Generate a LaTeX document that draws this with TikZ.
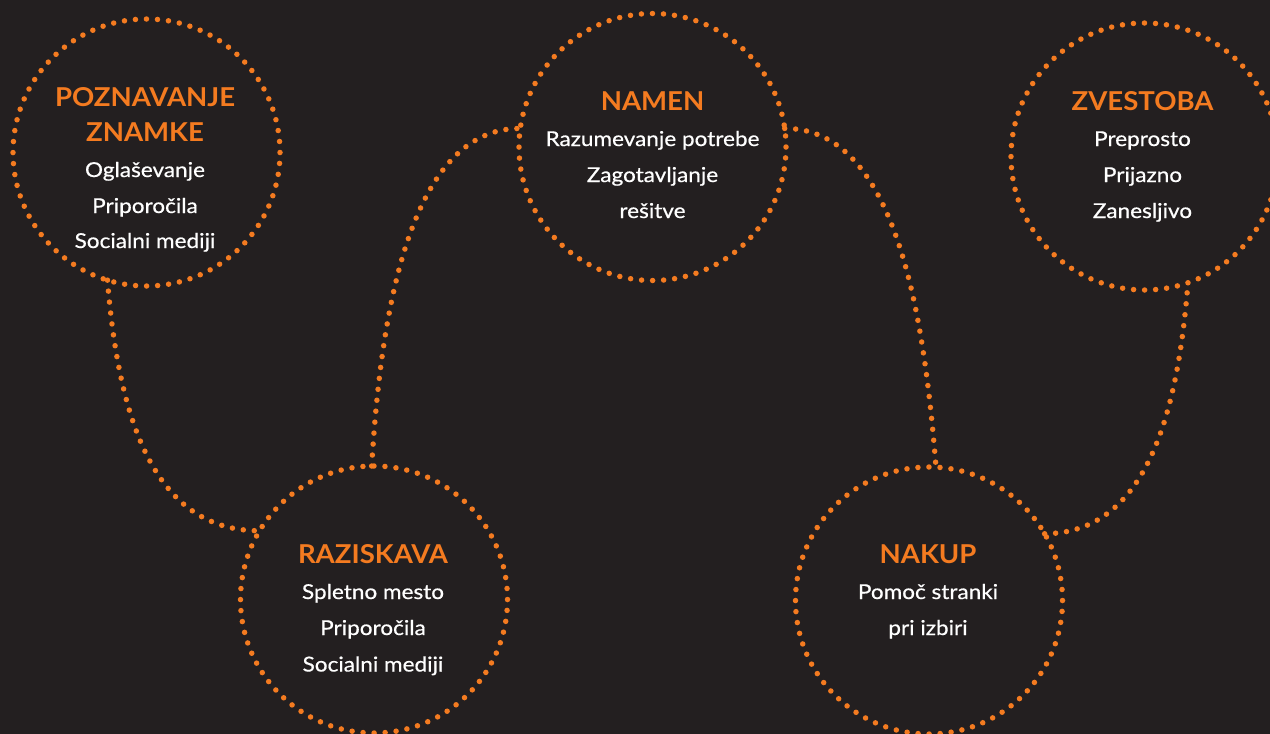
\documentclass[tikz,border=0pt]{standalone}
\usepackage{fontspec}
\setmainfont{Lato}
\newfontfamily\bodyfont{Lato}[FakeBold=0.6,FakeStretch=1.1]
\newfontfamily\titlefont{Lato}[FakeStretch=1.06]
\definecolor{bg}{HTML}{231F20}
\definecolor{org}{HTML}{F47B20}
\begin{document}
\begin{tikzpicture}[x=1pt,y=-1pt,
  ring/.style={circle, draw=org, line width=5.5pt, line cap=round, dash pattern=on 0pt off 11.04pt, minimum size=267pt, inner sep=0pt, outer sep=0pt},
  link/.style={draw=org, line width=5.5pt, line cap=round, dash pattern=on 0pt off 11pt},
  ttl/.style={text=org, font=\titlefont\fontsize{26}{30}\selectfont\bfseries, anchor=base, inner sep=0pt},
  txt/.style={text=white, font=\bodyfont\fontsize{20.5}{24}\selectfont, anchor=base, inner sep=0pt}]
\fill[bg] (0,0) rectangle (1270,734);
\useasboundingbox (0,0) rectangle (1270,734);

\node[ring] (pozn)  at (146.5,152.5) {};
\node[ring] (namen) at (652.5,147) {};
\node[ring] (zvest) at (1144.5,156.5) {};
\node[ring] (rask)  at (374,599.5) {};
\node[ring] (nakup) at (929,600.5) {};

\draw[link] (pozn.253) .. controls (118,410) and (150,531) .. (rask.149);
\draw[link] (rask.91) .. controls (380,330) and (405,128) .. (namen.172);
\draw[link] (namen.8) .. controls (900,128) and (925,330) .. (nakup.87);
\draw[link] (nakup.30) .. controls (1148,533) and (1178,410) .. (zvest.289);

\node[ttl] (pozn-a) at (145,106) {POZNAVANJE};
\node[ttl] (pozn-b) at (145,141) {ZNAMKE};
\node[txt] (pozn-c) at (145,177) {Oglaševanje};
\node[txt] (pozn-d) at (145,213) {Priporočila};
\node[txt] (pozn-e) at (145,248) {Socialni mediji};

\node[ttl] (namen-a) at (652.5,110) {NAMEN};
\node[txt] (namen-b) at (652.5,146) {Razumevanje potrebe};
\node[txt] (namen-c) at (652.5,182) {Zagotavljanje};
\node[txt] (namen-d) at (652.5,218) {rešitve};

\node[ttl] (zvest-a) at (1142.5,110) {ZVESTOBA};
\node[txt] (zvest-b) at (1142.5,146) {Preprosto};
\node[txt] (zvest-c) at (1142.5,182) {Prijazno};
\node[txt] (zvest-d) at (1142.5,218) {Zanesljivo};

\node[ttl] (rask-a) at (373,563) {RAZISKAVA};
\node[txt] (rask-b) at (373,599) {Spletno mesto};
\node[txt] (rask-c) at (373,635) {Priporočila};
\node[txt] (rask-d) at (373,671.5) {Socialni mediji};

\node[ttl] (nakup-a) at (928,563) {NAKUP};
\node[txt] (nakup-b) at (928,599) {Pomoč stranki};
\node[txt] (nakup-c) at (928,635) {pri izbiri};
\end{tikzpicture}
\end{document}
